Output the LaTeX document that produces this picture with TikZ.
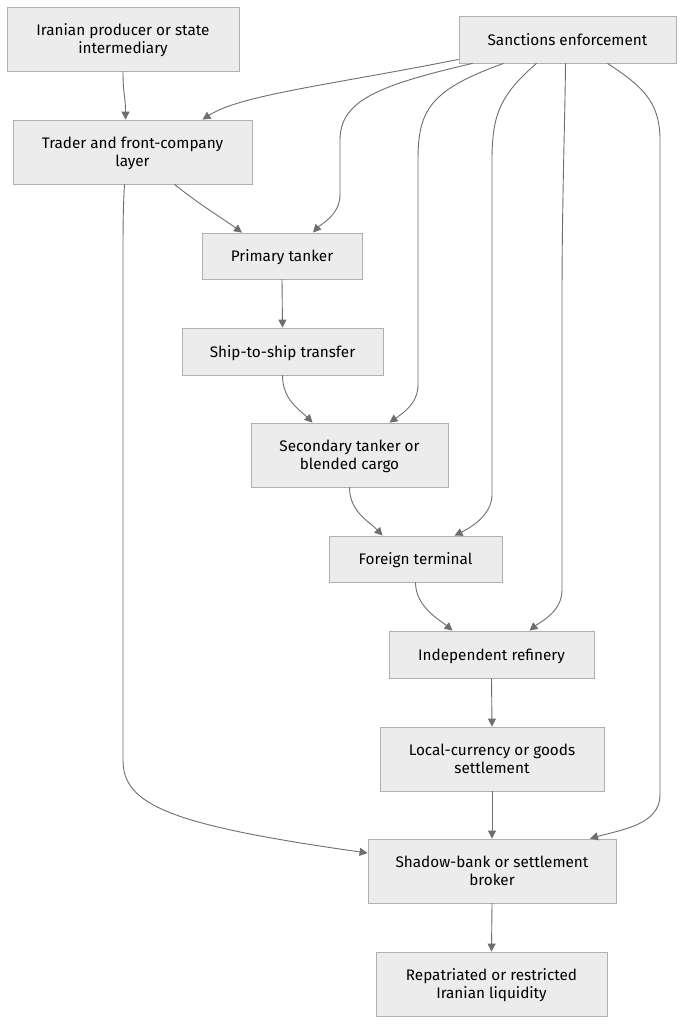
\documentclass[tikz,border=0pt]{standalone}
\usepackage{fontspec}
\setmainfont{Fira Sans}
\usetikzlibrary{arrows.meta}
\definecolor{boxfill}{HTML}{ECECEC}
\definecolor{boxline}{HTML}{B0B0B0}
\definecolor{edgecol}{HTML}{6E6E6E}
\begin{document}
\begin{tikzpicture}[x=1pt,y=-1pt,
  box/.style={draw=boxline, fill=boxfill, line width=0.8pt, align=center,
    font=\fontsize{15.3}{18}\selectfont, inner sep=0pt, text depth=-3pt},
  edge/.style={draw=edgecol, line width=0.9pt, -{Triangle[length=8pt,width=8pt]}}]
\useasboundingbox[fill=white] (0,0) rectangle (684,1024);
\node[box, minimum width=232pt, minimum height=64pt] (ira) at (123,39) {Iranian producer or state\\intermediary};
\node[box, minimum width=217pt, minimum height=47pt] (san) at (567.5,39.5) {Sanctions enforcement};
\node[box, minimum width=239pt, minimum height=64pt] (tra) at (132.5,152) {Trader and front-company\\layer};
\node[box, minimum width=160pt, minimum height=46pt] (pri) at (282,256) {Primary tanker};
\node[box, minimum width=201pt, minimum height=47pt] (shi) at (282.5,351.5) {Ship-to-ship transfer};
\node[box, minimum width=197pt, minimum height=64pt] (sec) at (349.5,455) {Secondary tanker or\\blended cargo};
\node[box, minimum width=173pt, minimum height=46pt] (for) at (415.5,559) {Foreign terminal};
\node[box, minimum width=205pt, minimum height=47pt] (ref) at (491.5,654.5) {Independent refinery};
\node[box, minimum width=224pt, minimum height=64pt] (loc) at (492,759) {Local-currency or goods\\settlement};
\node[box, minimum width=248pt, minimum height=64pt] (sha) at (492,871) {Shadow-bank or settlement\\broker};
\node[box, minimum width=231pt, minimum height=64pt] (rep) at (491.5,984) {Repatriated or restricted\\Iranian liquidity};

% Main flow
\draw[edge] (ira.south) .. controls +(0,25) and +(0,-25) .. ([xshift=-7pt]tra.north);
\draw[edge] ([xshift=42pt]tra.south) .. controls (200,205) and (225,220) .. ([xshift=-40pt]pri.north);
\draw[edge] (pri.south) -- (shi.north);
\draw[edge] (shi.south) .. controls (282.5,400) and (300,410) .. ([xshift=-37pt]sec.north);
\draw[edge] (sec.south) .. controls (349.5,512) and (370,522) .. ([xshift=-33pt]for.north);
\draw[edge] (for.south) .. controls (415.5,607) and (440,620) .. ([xshift=-39pt]ref.north);
\draw[edge] (ref.south) -- (loc.north);
\draw[edge] (loc.south) -- (sha.north);
\draw[edge] (sha.south) -- (rep.north);
\draw[edge] ([xshift=-8pt]tra.south) .. controls (123,210) and (123,230) .. (123,260) -- (123,760)
  .. controls (123,805) and (170,825) .. ([yshift=18pt]sha.west);

% Sanctions enforcement edges
\draw[edge] ([yshift=4pt]san.south west) .. controls (330,85) and (240,95) .. ([xshift=70pt]tra.north);
\draw[edge] ([xshift=-95pt]san.south) .. controls (380,85) and (340,100) .. (340,140) -- (340,195)
  .. controls (340,215) and (320,225) .. ([xshift=31pt]pri.north);
\draw[edge] ([xshift=-64pt]san.south) .. controls (430,90) and (418,110) .. (418,160) -- (418,385)
  .. controls (418,405) and (400,415) .. ([xshift=40pt]sec.north);
\draw[edge] ([xshift=-31pt]san.south) .. controls (500,95) and (492,115) .. (492,160) -- (492,495)
  .. controls (492,515) and (470,528) .. ([xshift=39pt]for.north);
\draw[edge] ([xshift=-2pt]san.south) .. controls (565,120) and (562,200) .. (562,300) -- (562,590)
  .. controls (562,612) and (540,622) .. ([xshift=38pt]ref.north);
\draw[edge] ([xshift=40pt]san.south) .. controls (640,85) and (660,100) .. (660,140) -- (660,795)
  .. controls (660,825) and (620,830) .. ([xshift=98pt]sha.north);
\end{tikzpicture}
\end{document}
